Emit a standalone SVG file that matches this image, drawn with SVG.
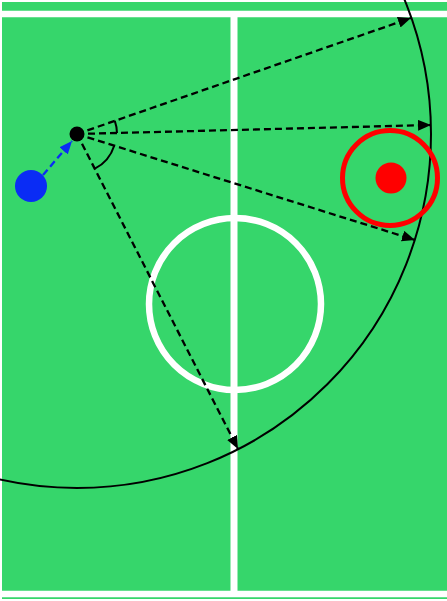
<svg xmlns="http://www.w3.org/2000/svg" width="447" height="601" viewBox="0 0 447 601">
  <style>
    .line { stroke: #ffffff; stroke-width: 6.5; fill: none; }
    .ray { stroke: #000000; stroke-width: 2.3; stroke-dasharray: 7 4; fill: none; }
    .angle { stroke: #000000; stroke-width: 2; fill: none; }
  </style>
  <defs>
    <marker id="ah" markerUnits="userSpaceOnUse" markerWidth="13" markerHeight="11" refX="13" refY="5.5" orient="auto">
      <path d="M0,0 L13,5.5 L0,11 z" fill="#000000"/>
    </marker>
    <marker id="ahb" markerUnits="userSpaceOnUse" markerWidth="13" markerHeight="11" refX="13" refY="5.5" orient="auto">
      <path d="M0,0 L13,5.5 L0,11 z" fill="#0a2cf5"/>
    </marker>
  </defs>
  <rect x="0" y="0" width="447" height="601" fill="#ffffff"/>
  <g id="field">
    <rect x="2" y="2" width="445" height="597" fill="#36d66b"/>
    <line class="line" x1="2" y1="14" x2="447" y2="14"/>
    <line class="line" x1="2" y1="594" x2="447" y2="594"/>
    <line class="line" x1="234" y1="14" x2="234" y2="594" style="stroke-width:7"/>
    <circle class="line" cx="235" cy="304" r="86"/>
  </g>
  <g id="range">
    <circle cx="77" cy="134" r="354" fill="none" stroke="#000000" stroke-width="2"/>
  </g>
  <g id="connectors">
    <line class="ray" x1="77" y1="134" x2="411" y2="18" marker-end="url(#ah)"/>
    <line class="ray" x1="77" y1="134" x2="431" y2="125" marker-end="url(#ah)"/>
    <line class="ray" x1="77" y1="134" x2="415" y2="240" marker-end="url(#ah)"/>
    <line class="ray" x1="77" y1="134" x2="238" y2="449" marker-end="url(#ah)"/>
    <line x1="43" y1="175" x2="72" y2="141" stroke="#0a2cf5" stroke-width="2.3" stroke-dasharray="7 4" marker-end="url(#ahb)"/>
    <path class="angle" d="M114.8,120.9 A40,40 0 0 1 117,133"/>
    <path class="angle" d="M114.2,145.7 A39,39 0 0 1 94.8,168.7"/>
  </g>
  <g id="target">
    <circle cx="390" cy="178" r="47.5" fill="none" stroke="#ff0000" stroke-width="5"/>
    <circle cx="391" cy="178" r="15.5" fill="#ff0000"/>
  </g>
  <g id="teammate">
    <circle cx="31" cy="186" r="16" fill="#0a2cf5"/>
  </g>
  <g id="ball-holder">
    <circle cx="77" cy="134" r="7.5" fill="#000000"/>
  </g>
</svg>
